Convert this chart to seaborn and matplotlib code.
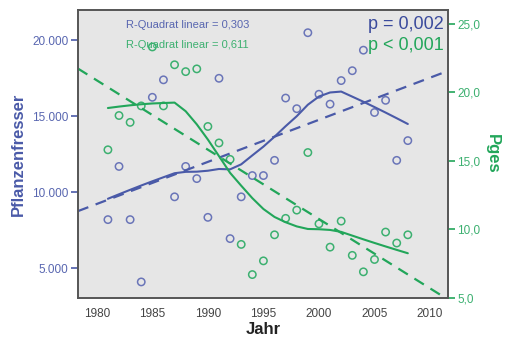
import numpy as np
import pandas as pd
import matplotlib
matplotlib.use('Agg')
import matplotlib.pyplot as plt
import seaborn as sns

# Data
jahr = list(range(1981, 2009))
pflanzenfresser = [8200, 11700, 8200, 4100, 16250, 17400, 9700, 11700, 10900, 8350,
                   17500, 6950, 9700, 11100, 11100, 12100, 16200, 15500, 20500, 16450,
                   15800, 17350, 18000, 19350, 15250, 16050, 12100, 13400]
pges = [15.8, 18.3, 17.8, 19.0, 23.3, 19.0, 22.0, 21.5, 21.7, 17.5,
        16.3, 15.1, 8.9, 6.7, 7.7, 9.6, 10.8, 11.4, 15.6, 10.4,
        8.7, 10.6, 8.1, 6.9, 7.8, 9.8, 9.0, 9.6]

df = pd.DataFrame({'Jahr': jahr, 'Pflanzenfresser': pflanzenfresser, 'Pges': pges})

blue = '#4a5aa8'
green = '#22a65a'


def loess(x, y, frac=0.5):
    # local linear fit with Epanechnikov weights (like SPSS, 50% of points)
    x = np.asarray(x, float)
    y = np.asarray(y, float)
    n = len(x)
    k = int(np.ceil(frac * n))
    out = []
    for x0 in x:
        d = np.abs(x - x0)
        h = np.sort(d)[k - 1] * 1.0001
        w = np.clip(1 - (d / h) ** 2, 0, None)
        W = np.sqrt(w)
        A = np.vstack([np.ones(n), x - x0]).T
        coef = np.linalg.lstsq(A * W[:, None], y * W, rcond=None)[0]
        out.append(coef[0])
    return np.array(out)


sns.set_style('white')
plt.rcParams['font.family'] = ['Liberation Sans', 'DejaVu Sans']

fig = plt.figure(figsize=(5.06, 3.42), dpi=100)
ax = fig.add_axes([0.154, 0.129, 0.731, 0.842])
ax.set_facecolor('#e6e6e6')
ax2 = ax.twinx()

ax.set_xlim(1978.3, 2011.6)
ax.set_ylim(3050, 22000)
ax2.set_ylim(5.0, 26.0)

# linear fits
sns.regplot(data=df, x='Jahr', y='Pflanzenfresser', ax=ax, scatter=False, ci=None,
            truncate=False, line_kws=dict(color=blue, lw=1.6, dashes=(5, 3.5)))
sns.regplot(data=df, x='Jahr', y='Pges', ax=ax2, scatter=False, ci=None,
            truncate=False, line_kws=dict(color=green, lw=1.6, dashes=(5, 3.5)))

# loess curves
ax.plot(df['Jahr'], loess(df['Jahr'], df['Pflanzenfresser']), color=blue, lw=1.5)
ax2.plot(df['Jahr'], loess(df['Jahr'], df['Pges']), color=green, lw=1.5)

# points
sns.scatterplot(data=df, x='Jahr', y='Pflanzenfresser', ax=ax, marker='o', s=28,
                facecolor='none', edgecolor='#6a75b8', linewidth=1.1)
sns.scatterplot(data=df, x='Jahr', y='Pges', ax=ax2, marker='o', s=28,
                facecolor='none', edgecolor='#3cb070', linewidth=1.1)

ax.set_xlim(1978.3, 2011.6)
ax.set_ylim(3050, 22000)
ax2.set_ylim(5.0, 26.0)

ax.set_xticks([1980, 1985, 1990, 1995, 2000, 2005, 2010])
ax.set_yticks([5000, 10000, 15000, 20000])
ax.set_yticklabels(['5.000', '10.000', '15.000', '20.000'])
ax2.set_yticks([5, 10, 15, 20, 25])
ax2.set_yticklabels(['5,0', '10,0', '15,0', '20,0', '25,0'])

ax.tick_params(axis='x', length=5, width=1, colors='#333333', labelsize=8.5, pad=2)
ax.tick_params(axis='y', length=5, width=1.2, colors=blue, labelsize=8.5, labelcolor='#5866b0', pad=2)
ax2.tick_params(axis='y', length=5, width=1.2, colors=green, labelsize=8.5, labelcolor='#3cb070', pad=2)
ax.tick_params(axis='x', labelcolor='#444444')

for a in (ax, ax2):
    for s in a.spines.values():
        s.set_color('#555555')
        s.set_linewidth(1.2)

ax.set_xlabel('Jahr', fontsize=12, fontweight='bold', color='#222222', labelpad=2)
ax.set_ylabel('Pflanzenfresser', fontsize=12, fontweight='bold', color=blue, labelpad=4)
ax2.set_ylabel('Pges', fontsize=12, fontweight='bold', color=green, rotation=-90, labelpad=14)

ax.text(0.13, 0.965, 'R-Quadrat linear = 0,303', transform=ax.transAxes, fontsize=8,
        color='#5866b0', va='top')
ax.text(0.13, 0.895, 'R-Quadrat linear = 0,611', transform=ax.transAxes, fontsize=8,
        color='#3cb070', va='top')
ax.text(0.99, 0.98, 'p = 0,002', transform=ax.transAxes, fontsize=13,
        color='#3a4a9c', ha='right', va='top')
ax.text(0.99, 0.905, 'p < 0,001', transform=ax.transAxes, fontsize=13,
        color=green, ha='right', va='top')

fig.savefig('out.png', dpi=100)
